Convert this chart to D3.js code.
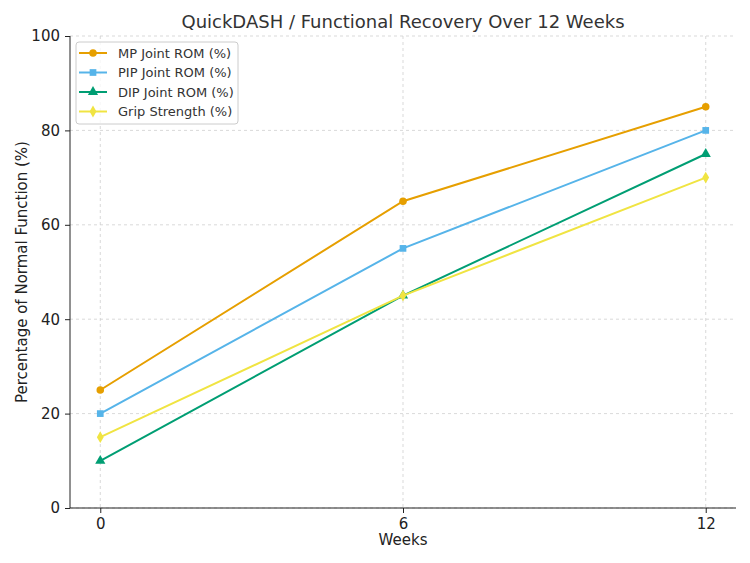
<!DOCTYPE html>
<html>
<head>
<meta charset="utf-8">
<script src="https://cdn.jsdelivr.net/npm/d3@7"></script>
<style>
body { margin: 0; background: #fff; }
text { font-family: "DejaVu Sans", sans-serif; }
</style>
</head>
<body>
<svg id="chart" width="750" height="563"></svg>
<script>
const weeks = [0, 6, 12]
const xTicks = [0, 6, 12]
const yTicks = [0, 20, 40, 60, 80, 100]

const mpRom = [25, 65, 85]
const pipRom = [20, 55, 80]
const dipRom = [10, 45, 75]
const grip = [15, 45, 70]

const series = [
	{name: 'MP Joint ROM (%)', values: mpRom, color: '#E69F00', marker: 'circle'},
	{name: 'PIP Joint ROM (%)', values: pipRom, color: '#56B4E9', marker: 'square'},
	{name: 'DIP Joint ROM (%)', values: dipRom, color: '#009E73', marker: 'triangle'},
	{name: 'Grip Strength (%)', values: grip, color: '#F0E442', marker: 'diamond'}
]

const svg = d3.select('#chart')
const plotLeft = 70, plotRight = 736, plotTop = 36, plotBottom = 508

const x = d3.scaleLinear().domain([-0.6, 12.6]).range([plotLeft, plotRight])
const y = d3.scaleLinear().domain([0, 100]).range([plotBottom, plotTop])

// grid
svg.append('g').selectAll('line')
	.data(xTicks)
	.enter()
	.append('line')
	.attr('x1', d => x(d)).attr('x2', d => x(d))
	.attr('y1', plotTop).attr('y2', plotBottom)
	.attr('stroke', '#cfcfcf').attr('stroke-dasharray', '3,3').attr('stroke-width', 0.8)

svg.append('g').selectAll('line')
	.data(yTicks)
	.enter()
	.append('line')
	.attr('x1', plotLeft).attr('x2', plotRight)
	.attr('y1', d => y(d)).attr('y2', d => y(d))
	.attr('stroke', '#cfcfcf').attr('stroke-dasharray', '3,3').attr('stroke-width', 0.8)

// axes
const xAxis = svg.append('g')
	.attr('transform', 'translate(0,' + plotBottom + ')')
	.call(d3.axisBottom(x).tickValues(xTicks).tickSizeOuter(0).tickSize(5).tickPadding(5))
const yAxis = svg.append('g')
	.attr('transform', 'translate(' + plotLeft + ',0)')
	.call(d3.axisLeft(y).tickValues(yTicks).tickSizeOuter(0).tickSize(5).tickPadding(5))

xAxis.select('.domain').attr('d', 'M' + plotLeft + ',0H' + plotRight)
yAxis.select('.domain').attr('d', 'M0,' + plotBottom + 'V' + plotTop)
svg.selectAll('.tick text').attr('font-size', 15).attr('fill', '#222').style('font-family', 'DejaVu Sans')
svg.selectAll('.domain, .tick line').attr('stroke', '#222')

// lines
const line = d3.line().x((d, i) => x(weeks[i])).y(d => y(d))

const symbolOf = {
	circle: d3.symbol().type(d3.symbolCircle).size(45),
	square: d3.symbol().type(d3.symbolSquare).size(45),
	triangle: d3.symbol().type(d3.symbolTriangle).size(45),
	diamond: d3.symbol().type(d3.symbolDiamond).size(40)
}

series.forEach(function(s){

	svg.append('path')
		.datum(s.values)
		.attr('d', line)
		.attr('fill', 'none')
		.attr('stroke', s.color)
		.attr('stroke-width', 2)

	svg.append('g').selectAll('path')
		.data(s.values)
		.enter()
		.append('path')
		.attr('d', symbolOf[s.marker])
		.attr('transform', (d, i) => 'translate(' + x(weeks[i]) + ',' + y(d) + ')')
		.attr('fill', s.color)
})

// title & labels
svg.append('text')
	.attr('x', (plotLeft + plotRight) / 2).attr('y', 28)
	.attr('text-anchor', 'middle')
	.attr('font-size', 18)
	.attr('fill', '#333')
	.text('QuickDASH / Functional Recovery Over 12 Weeks')

svg.append('text')
	.attr('x', (plotLeft + plotRight) / 2).attr('y', 545)
	.attr('text-anchor', 'middle')
	.attr('font-size', 15)
	.attr('fill', '#222')
	.text('Weeks')

svg.append('text')
	.attr('transform', 'translate(27,' + ((plotTop + plotBottom) / 2) + ') rotate(-90)')
	.attr('text-anchor', 'middle')
	.attr('font-size', 15)
	.attr('fill', '#222')
	.text('Percentage of Normal Function (%)')

// legend
const legend = svg.append('g').attr('transform', 'translate(76,42)')
legend.append('rect')
	.attr('width', 162).attr('height', 82)
	.attr('rx', 3)
	.attr('fill', '#fff').attr('fill-opacity', 0.8)
	.attr('stroke', '#ccc')

const items = legend.selectAll('.item')
	.data(series)
	.enter()
	.append('g')
	.attr('transform', (d, i) => 'translate(0,' + (11 + i * 19.5) + ')')

items.append('line')
	.attr('x1', 3).attr('x2', 31)
	.attr('stroke', d => d.color).attr('stroke-width', 2)
items.append('path')
	.attr('d', d => symbolOf[d.marker](d))
	.attr('transform', 'translate(17,0)')
	.attr('fill', d => d.color)
items.append('text')
	.attr('x', 42).attr('y', 4.5)
	.attr('font-size', 13)
	.attr('fill', '#333')
	.text(d => d.name)
</script>
</body>
</html>
